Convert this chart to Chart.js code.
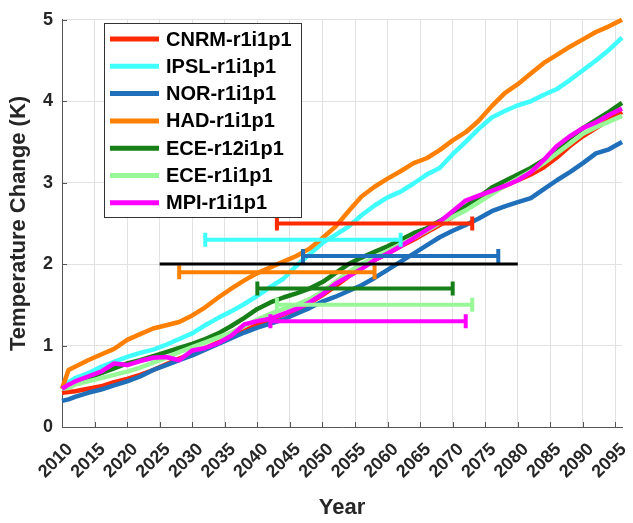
<!DOCTYPE html>
<html lang="en">
<head>
<meta charset="UTF-8" />
<title>Temperature Change</title>
<script src="https://cdn.jsdelivr.net/npm/chart.js@4.4.1/dist/chart.umd.min.js"></script>
<style>
  html, body { margin: 0; padding: 0; background: #fff; }
  #wrap { position: relative; width: 633px; height: 523px; }
</style>
</head>
<body>
<div id="wrap"><canvas id="tempChart"></canvas></div>
<script>
// years of the smoothed series (every 2 years, plus 2011 for the early jump)
const years = [2010, 2011, 2012, 2014, 2016, 2018, 2020, 2022, 2024, 2026, 2028, 2030,
  2032, 2034, 2036, 2038, 2040, 2042, 2044, 2046, 2048, 2050, 2052, 2054, 2056, 2058,
  2060, 2062, 2064, 2066, 2068, 2070, 2072, 2074, 2076, 2078, 2080, 2082, 2084, 2086,
  2088, 2090, 2092, 2094, 2096];

const models = ['CNRM-r1i1p1', 'IPSL-r1i1p1', 'NOR-r1i1p1', 'HAD-r1i1p1',
  'ECE-r12i1p1', 'ECE-r1i1p1', 'MPI-r1i1p1'];

const cnrm = [0.42, 0.43, 0.44, 0.47, 0.50, 0.55, 0.59, 0.64, 0.70, 0.77, 0.84, 0.90,
  0.97, 1.04, 1.10, 1.18, 1.26, 1.32, 1.38, 1.44, 1.52, 1.62, 1.73, 1.85, 1.96, 2.05,
  2.13, 2.22, 2.30, 2.39, 2.48, 2.58, 2.68, 2.78, 2.88, 2.96, 3.03, 3.10, 3.19, 3.31,
  3.45, 3.57, 3.67, 3.77, 3.87];
const ipsl = [0.50, 0.55, 0.60, 0.66, 0.74, 0.80, 0.86, 0.91, 0.95, 1.01, 1.08, 1.15,
  1.25, 1.34, 1.42, 1.51, 1.61, 1.72, 1.82, 1.98, 2.12, 2.26, 2.36, 2.46, 2.60, 2.72,
  2.82, 2.89, 2.99, 3.10, 3.18, 3.35, 3.50, 3.66, 3.80, 3.88, 3.95, 4.00, 4.08, 4.15,
  4.26, 4.38, 4.50, 4.63, 4.78];
const nor = [0.32, 0.34, 0.37, 0.42, 0.46, 0.51, 0.56, 0.62, 0.70, 0.76, 0.82, 0.88,
  0.95, 1.02, 1.09, 1.16, 1.22, 1.27, 1.32, 1.39, 1.46, 1.54, 1.60, 1.67, 1.74, 1.83,
  1.93, 2.03, 2.13, 2.23, 2.33, 2.41, 2.48, 2.56, 2.65, 2.71, 2.76, 2.81, 2.92, 3.03,
  3.13, 3.24, 3.36, 3.41, 3.50];
const had = [0.47, 0.70, 0.74, 0.82, 0.89, 0.96, 1.07, 1.14, 1.21, 1.25, 1.29, 1.37,
  1.47, 1.59, 1.70, 1.80, 1.89, 1.96, 2.03, 2.10, 2.19, 2.32, 2.46, 2.65, 2.83, 2.95,
  3.05, 3.14, 3.24, 3.30, 3.40, 3.52, 3.62, 3.76, 3.94, 4.10, 4.21, 4.34, 4.47, 4.57,
  4.67, 4.76, 4.85, 4.92, 5.00];
const eceR12 = [0.47, 0.50, 0.54, 0.60, 0.66, 0.72, 0.78, 0.82, 0.87, 0.92, 0.97, 1.02,
  1.08, 1.15, 1.24, 1.34, 1.45, 1.53, 1.59, 1.64, 1.70, 1.78, 1.89, 2.00, 2.08, 2.15,
  2.22, 2.30, 2.38, 2.44, 2.53, 2.62, 2.71, 2.82, 2.94, 3.02, 3.10, 3.18, 3.28, 3.41,
  3.55, 3.67, 3.77, 3.87, 3.98];
const eceR1 = [0.47, 0.48, 0.52, 0.56, 0.60, 0.64, 0.68, 0.73, 0.79, 0.85, 0.92, 0.98,
  1.04, 1.10, 1.16, 1.24, 1.32, 1.39, 1.45, 1.50, 1.57, 1.66, 1.78, 1.90, 2.00, 2.08,
  2.16, 2.24, 2.32, 2.41, 2.50, 2.58, 2.66, 2.76, 2.86, 2.96, 3.05, 3.14, 3.24, 3.36,
  3.48, 3.60, 3.68, 3.75, 3.82];
const mpi = [0.47, 0.52, 0.56, 0.62, 0.68, 0.78, 0.76, 0.81, 0.85, 0.86, 0.82, 0.94,
  0.97, 1.03, 1.12, 1.26, 1.30, 1.33, 1.39, 1.45, 1.53, 1.63, 1.76, 1.85, 1.94, 2.05,
  2.13, 2.22, 2.32, 2.42, 2.52, 2.65, 2.78, 2.84, 2.90, 2.96, 3.03, 3.13, 3.28, 3.45,
  3.57, 3.67, 3.74, 3.83, 3.91];

// 30-year windows around the 2K crossing, one per model
const windowStart = [2043, 2032, 2047, 2028, 2040, 2043, 2042];
const windowEnd = [2073, 2062, 2077, 2058, 2070, 2073, 2072];
const windowLevel = [2.5, 2.3, 2.1, 1.9, 1.7, 1.5, 1.3];

// black 2K reference line
const refYears = [2025, 2080];
const refLevel = 2;

const xTicks = [2010, 2015, 2020, 2025, 2030, 2035, 2040, 2045, 2050, 2055,
  2060, 2065, 2070, 2075, 2080, 2085, 2090, 2095];
const yTicks = [0, 1, 2, 3, 4, 5];

const seriesValues = [cnrm, ipsl, nor, had, eceR12, eceR1, mpi];
const colors = ['#ff2a00', '#40ffff', '#1f6fba', '#ff8000', '#177f17', '#98f898', '#ff00ff'];

const FONT = '"Liberation Sans", Arial, sans-serif';
Chart.defaults.font.family = FONT;
Chart.defaults.font.weight = 'bold';
Chart.defaults.color = '#262626';

// small inward tick marks like the original axes
const innerTicks = {
  id: 'innerTicks',
  beforeDatasetsDraw(chart) {
    const { ctx, chartArea: a, scales: { x, y } } = chart;
    ctx.save();
    ctx.strokeStyle = '#555';
    ctx.lineWidth = 1;
    ctx.beginPath();
    x.ticks.forEach(t => {
      const px = Math.round(x.getPixelForValue(t.value)) + 0.5;
      ctx.moveTo(px, a.bottom);
      ctx.lineTo(px, a.bottom - 5);
    });
    y.ticks.forEach(t => {
      const py = Math.round(y.getPixelForValue(t.value)) + 0.5;
      ctx.moveTo(a.left, py);
      ctx.lineTo(a.left + 5, py);
    });
    ctx.stroke();
    ctx.restore();
  }
};

// boxed legend inside the plot, top left
const boxLegend = {
  id: 'boxLegend',
  afterDraw(chart) {
    const ctx = chart.ctx;
    const left = 104, top = 23, w = 197, h = 194;
    ctx.save();
    ctx.fillStyle = '#fff';
    ctx.fillRect(left, top, w, h);
    ctx.strokeStyle = '#333';
    ctx.lineWidth = 1;
    ctx.strokeRect(left + 0.5, top + 0.5, w, h);
    ctx.font = 'bold 20px ' + FONT;
    ctx.textBaseline = 'middle';
    models.forEach((name, i) => {
      const y = 39 + i * 27.3;
      ctx.strokeStyle = colors[i];
      ctx.lineWidth = 5;
      ctx.beginPath();
      ctx.moveTo(110, y);
      ctx.lineTo(159, y);
      ctx.stroke();
      ctx.fillStyle = '#000';
      ctx.fillText(name, 166, y + 1);
    });
    ctx.restore();
  }
};

const lineSets = models.map((name, i) => ({
  label: name,
  data: years.map((yr, k) => ({ x: yr, y: seriesValues[i][k] })),
  borderColor: colors[i],
  borderWidth: 4.5,
  borderJoinStyle: 'round',
  pointRadius: 0,
  tension: 0,
  clip: false,
  order: 20 - i
}));

const windowSets = models.map((name, i) => ({
  label: name + ' window',
  data: [{ x: windowStart[i], y: windowLevel[i] }, { x: windowEnd[i], y: windowLevel[i] }],
  borderColor: colors[i],
  borderWidth: 4,
  pointStyle: 'line',
  pointRadius: 7,
  pointRotation: 90,
  pointBorderColor: colors[i],
  pointBorderWidth: 4,
  order: 10 - i
}));

const refSet = {
  label: '2K',
  data: refYears.map(yr => ({ x: yr, y: refLevel })),
  borderColor: '#000',
  borderWidth: 3,
  pointRadius: 0,
  order: 0
};

new Chart(document.getElementById('tempChart'), {
  type: 'line',
  data: { datasets: [...lineSets, ...windowSets, refSet] },
  plugins: [innerTicks, boxLegend],
  options: {
    responsive: true,
    maintainAspectRatio: false,
    animation: false,
    events: [],
    layout: { padding: { top: 17, right: 8, left: 0, bottom: 0 } },
    plugins: { legend: { display: false }, tooltip: { enabled: false } },
    scales: {
      x: {
        type: 'linear',
        min: 2010,
        max: 2096,
        afterBuildTicks: scale => { scale.ticks = xTicks.map(v => ({ value: v })); },
        afterFit: scale => {
          scale.height = 96;
          scale.paddingLeft = 0;
          scale.paddingRight = 0;
        },
        grid: { color: '#e2e2e2', drawTicks: false },
        border: { color: '#555', width: 1 },
        ticks: {
          autoSkip: false,
          minRotation: 45,
          maxRotation: 45,
          padding: 12,
          labelOffset: 8,
          font: { size: 18, weight: 'bold' },
          callback: v => String(v)
        },
        title: { display: true, text: 'Year', font: { size: 22, weight: 'bold' }, padding: { top: 2, bottom: 2 } }
      },
      y: {
        min: 0,
        max: 5,
        afterBuildTicks: scale => { scale.ticks = yTicks.map(v => ({ value: v })); },
        afterFit: scale => { scale.width = 62; },
        grid: { color: '#e2e2e2', drawTicks: false },
        border: { color: '#555', width: 1 },
        ticks: { padding: 9, font: { size: 18, weight: 'bold' } },
        title: { display: true, text: 'Temperature Change (K)', font: { size: 22, weight: 'bold' }, padding: { top: 6, bottom: 0 } }
      }
    }
  }
});
</script>
</body>
</html>
